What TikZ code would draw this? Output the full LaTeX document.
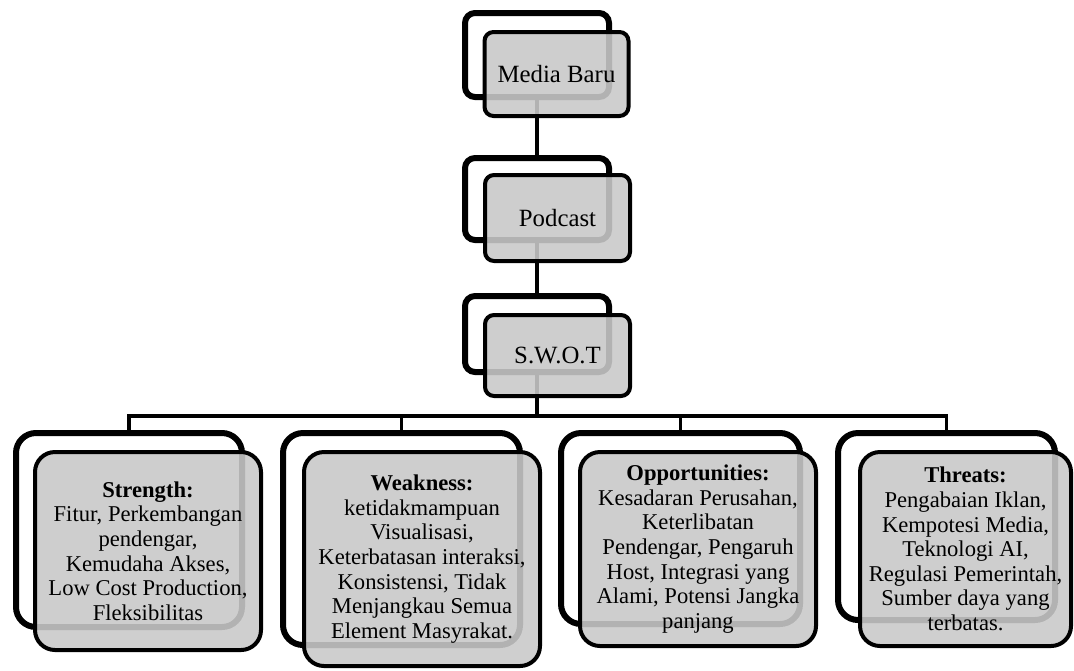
\documentclass[tikz,border=0pt]{standalone}
\usepackage{fontspec}
\setmainfont{Liberation Serif}

\begin{document}
\begin{tikzpicture}
	[x=0.5pt,y=-0.5pt,
	back/.style={draw=black,line width=3pt,fill=white,inner sep=0pt,
		rounded corners=5pt},
	back1/.style={back,rounded corners=10pt},
	front/.style={draw=black,line width=2pt,fill=black!21,fill opacity=0.89,
		text opacity=1,inner sep=0pt,rounded corners=4.5pt,align=center,
		font=\fontsize{12.4}{14}\selectfont},
	front1/.style={front,rounded corners=10pt,
		font=\fontsize{11.3}{12.3}\selectfont},
	conn/.style={line width=1.8pt}]
	\useasboundingbox (0,0) rectangle (1074,670);
	% cajas de atras
	\node[back,minimum width=72pt,minimum height=42pt] (mediaB) at (537,55) {};
	\node[back,minimum width=72pt,minimum height=41pt] (podB) at (537,199) {};
	\node[back,minimum width=72pt,minimum height=38pt] (swotB) at (537,334) {};
	\node[back1,minimum width=113pt,minimum height=97pt] (strB) at (129,530) {};
	\node[back1,minimum width=118.5pt,minimum height=106pt] (weakB) at (401.5,539) {};
	\node[back1,minimum width=119.5pt,minimum height=95.5pt] (oppB) at (680.5,528.5) {};
	\node[back1,minimum width=108.5pt,minimum height=93.5pt] (thrB) at (946.5,526.5) {};
	% conectores
	\coordinate (bus) at (537,416);
	\draw[conn] (mediaB) -- (podB);
	\draw[conn] (podB) -- (swotB);
	\draw[conn] (swotB) -- (bus);
	\draw[conn] (bus) -| (strB);
	\draw[conn] (bus) -| (weakB);
	\draw[conn] (bus) -| (oppB);
	\draw[conn] (bus) -| (thrB);
	% cajas de adelante
	\node[front,minimum width=72pt,minimum height=42pt] (media) at (556.5,74) {Media Baru};
	\node[front,minimum width=72.5pt,minimum height=43pt] (pod) at (557.5,218) {Podcast};
	\node[front,minimum width=72.5pt,minimum height=40.5pt] (swot) at (557.5,355.5) {S.W.O.T};
	\node[front1,minimum width=113pt,minimum height=99pt] (str) at (148,551)
		{\textbf{Strength:}\\Fitur, Perkembangan\\pendengar,\\Kemudaha Akses,\\
		Low Cost Production,\\Fleksibilitas};
	\node[front1,minimum width=118pt,minimum height=107pt] (weak) at (422,559)
		{\textbf{Weakness:}\\ketidakmampuan\\Visualisasi,\\Keterbatasan interaksi,\\
		Konsistensi, Tidak\\Menjangkau Semua\\Element Masyrakat.};
	\node[front1,minimum width=118pt,minimum height=97pt] (opp) at (698,549)
		{\textbf{Opportunities:}\\Kesadaran Perusahan,\\Keterlibatan\\Pendengar, Pengaruh\\
		Host, Integrasi yang\\Alami, Potensi Jangka\\panjang};
	\node[front1,minimum width=105.5pt,minimum height=97pt] (thr) at (965.5,549)
		{\textbf{Threats:}\\Pengabaian Iklan,\\Kempotesi Media,\\Teknologi AI,\\
		Regulasi Pemerintah,\\Sumber daya yang\\terbatas.};
\end{tikzpicture}
\end{document}
